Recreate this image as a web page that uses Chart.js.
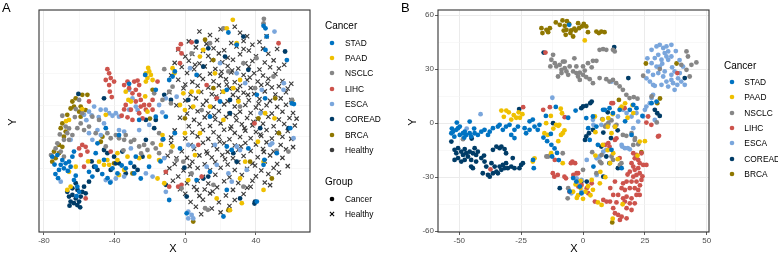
<!DOCTYPE html>
<html><head><meta charset="utf-8">
<script src="https://cdn.jsdelivr.net/npm/chart.js@4"></script>
<style>
body{margin:0;width:778px;height:254px;overflow:hidden;background:#fff;font-family:"Liberation Sans",Arial,sans-serif;position:relative}
canvas{position:absolute;left:0;top:0}
.t{position:absolute;white-space:nowrap;color:#000;line-height:1}
</style></head><body>
<canvas id="cA" width="778" height="254"></canvas>
<canvas id="cB" width="778" height="254"></canvas>
<div id="ov"></div>
<script>
// ---------- categories / labels ----------
const cancersA = ['STAD','PAAD','NSCLC','LIHC','ESCA','COREAD','BRCA','Healthy'];
const cancersB = ['STAD','PAAD','NSCLC','LIHC','ESCA','COREAD','BRCA'];
const groups = ['Cancer','Healthy'];
const palette = ['#0073C2','#EFC000','#868686','#CD534C','#7AA6DC','#003C67','#8F7700','#3B3B3B'];
const xTicksA = [-80,-40,0,40];
const yTicksA = [-20,0,20];
const xTicksB = [-50,-25,0,25,50];
const yTicksB = [-60,-30,0,30,60];

// ---------- panel A values ----------
const A_STAD = [[-31.8,13],[-22.7,15.8],[-9.1,14.2],[-7.2,15.3],[-16.7,11.1],[-11,2.6],[-16.7,2.6],[-26.1,1.6],
[-75.3,-10],[-72.4,-9.5],[-69.6,-11.1],[-67.7,-12.1],[-65.8,-11.6],[-70.5,-12.6],[-68.7,-13.7],[-63.9,-10],[-64.9,-13.2],[-71.5,-14.2],[-63,-8.4],[-61.1,-19.5],[-60.1,-21.1],[-63,-17.4],[-54.5,-14.8],[-52.6,-16.3],[-50.7,-13.2],[-41.2,-13.7],[-38.4,-15.3],[-33.7,-13.7],[-28.9,-15.3],[-28,-10],[-25.2,-16.9],[-49.7,-5.8],[-50.7,-8.9],[-45,-1],[-37.5,-3.2],[-9.1,-23.7],
[-73.5,-15.5],[-72,-16.8],[-74,-12.5],[-66.5,-14.5],[-62,-16],[-47,-15.5],[-44,-16.8],[-42.5,-18.2],[-46,-11],[-36,-12.8],[-31,-12],[-20.5,-13.2],[-14,-11.5],[-12.5,-4.5],[-61.5,-22.5],
[44.3,31.3],[46.1,27.9],[24.4,29.2],[29.1,25.3],[-5.9,16.9],[6.4,15.8],[23.5,11.1],[19.7,7.4],[14,2.6],[40.5,9.5],[45.2,8.4],[60.3,6.8],[57.5,20.5],
[-5.9,-2.6],[-3,-7.4],[23.5,-6.8],[26.3,-7.9],[35.7,-7.4],[51.8,-8.9],[59.4,-1],[14,-14.8],[6.4,-17.4],[23.5,-20.5],[21.6,-28.9],[0.8,-27.9],[40.5,-24.2],[44.3,-12.6],
[45.4,30.5],[45.4,23.7],[61.5,6.6],[44.8,-11]];
const A_PAAD = [[-22.3,16.3],[-20.4,16.9],[-19.5,15.8],[-21.4,14.8],[-18.5,14.2],[-22.3,13.7],[-21,18],[-33.7,10.5],[-32.2,7.9],[-30.8,7.4],[-22.7,9],[-21.4,4.2],[-45,3.2],[-7.2,17.9],[-6.2,16.3],[-58.3,5],[-65.8,1.6],
[-65.8,-14.8],[-64.9,-19.5],[-66.8,-20.5],[-62,-13.2],[-44.1,-11.1],[-46,-12.6],[-48.8,-11.6],[-43.1,-12.6],[-38.4,-11.1],[-37.5,-15.8],[-34.6,-14.2],[-32.7,-10],[-26.1,-10.5],[-20.4,-10],[-12.9,-3.2],[-13.8,-6.3],[-14.8,-11.1],[-15.7,-16.9],[-11.9,-18.4],[-7.2,-6.8],[-38.4,-8.9],[-67.5,1.2],[-55,-11.5],
[26.9,33.2],[23.5,30.5],[10.2,23.7],[8.3,21.6],[29.1,25.8],[16.8,16.3],[31,14.2],[21.6,10.5],[-1.1,10],[3.6,10.5],[7.4,10.5],[4.5,5.8],[-0.2,4.7],[-3,6.3],[14,5.8],[21.6,1.6],[45.2,3.7],[30.1,7.4],[27.2,11.6],
[-0.2,-2.6],[8.3,-2.6],[5.5,-9.5],[1.7,-17.4],[17.8,-23.2],[44.3,-20.5],[31,-16.9],[33.9,-11.6],[44.3,-11.6],[25.3,-26.9],[32,-24.7],[50.5,2.1],[41.1,-5.3]];
const A_NSCLC = [[-60.1,7.9],[-62,5],[-69.6,2.9],[-58.3,3.7],[-52.6,2.6],[-48.8,1.6],[-11.9,17.6],[-17.6,10],[-12.9,7.9],[-9.1,10.5],[-7.2,12.1],[-8.1,6.8],
[-67.7,-0.5],[-65.8,-1.1],[-66.8,-2.6],[-63.9,-3.2],[-72.4,-5.8],[-68.7,-4.7],[-65.8,-4.7],[-73.4,-7.4],[-70.5,-8.4],[-68.7,-10],[-61.1,-1],[-59.2,0.5],[-50.7,-2.6],[-44.1,-2.6],[-42.2,-4.2],[-39.3,-3.2],[-37.5,-4.2],[-34.6,-4.7],[-33.7,-3.2],[-30.8,-5.3],[-28.9,-4.7],[-26.1,-6.8],[-23.3,-6.3],[-21.4,-7.9],[-18.5,-5.8],[-16.7,-7.4],[-45,-6.8],[-14.8,-2.6],[-12.9,-4.7],[-14.8,-8.9],[-8.1,-8.4],[-54.5,-0.5],[-57.3,-1.6],[-76,-9.5],[-71,-3],[-62.5,2.5],[-35,-8],[-25,-9],
[44.3,32.1],[21.6,30.5],[14,25.8],[3.6,22.6],[24.4,16.9],[32.9,19.5],[39.5,11.6],[9.3,4.7],[31,5.8],[60.3,7.9],[49.9,15.3],
[-4.9,-11.1],[-1.1,-11.6],[3.6,-15.3],[-2.1,-20],[11.2,-26.3],[12.8,-26.8],[32.9,-19.5],[15.9,-18.9],[58.4,-8.4],[44.5,33.5],[51.7,-8.1],[40.3,21.1]];
const A_LIHC = [[-44.1,17.6],[-43.1,16.3],[-42.2,14.8],[-45,14.2],[-40.3,13.7],[-43.1,12.6],[-42.7,10.5],[-41.6,8.8],[-34.6,12.6],[-32.7,13.7],[-31.8,11.6],[-28.9,13.7],[-27,14],[-26.1,12.6],[-28,11.1],[-29.9,10],[-26.1,9.5],[-25.2,7.9],[-28,7.4],[-25.2,5.8],[-23.3,6.3],[-22.3,4.8],[-33.7,6.3],[-34.6,4.9],[-36,2.9],[-32.7,2.4],[-29.9,1.6],[-24.2,2.1],[-26.1,3.7],[-20.4,6.3],[-18.5,7.9],[-18.5,4.8],[-54.5,7.4],[-15.7,13.7],[-30.8,4.8],
[-58.3,-6.3],[-56.4,-6.9],[-60.1,-7.4],[-55.4,-8.4],[-59.2,-9.5],[-57.3,-13.2],[-42.2,-8.4],[-56.4,-23.2],[-11,-14.8],[-9.1,-19.5],
[3.6,26.1],[-2.1,22.6],[-3,19.5],[52.8,25.8],[12.1,12.6],[17.8,8.4],[-2.5,25.5],[-4,24],
[7.4,-6.3],[9.3,-16.3],[-2.1,-18.9],[-4,-19.5],[39.2,0.5]];
const A_ESCA = [[-51.6,5.8],[-47.9,4.8],[-45,4.8],[-43.1,3.7],[-41.2,2.9],[-39.3,3.7],[-54.5,4.2],[-57.3,3.2],[-37.5,2.6],[-31.8,4.8],[-28,5.8],[-27,4.7],[-11,8.4],[-14.8,6.3],[-31.8,11.1],[-29.9,8.4],[-13,4],
[-70.5,-17.9],[-64.9,-4.7],[-54.5,-2.6],[-52.6,-4.7],[-49.7,-1.6],[-47.8,-3.2],[-37.5,-1.6],[-34.6,-2.1],[-30.8,-7.4],[-34.6,-16.3],[-39.3,-16.9],[-26.1,-1.6],[-20.4,0],[-11.9,-10.5],[-22.3,-15.3],[-18.5,-16.3],[-11,-21.1],[-42.2,-17.9],[-45,-17.4],[-56,1.5],[-53,3],[-49,2.5],[-46,0.5],
[50.5,29.5],[19.7,19.5],[2.7,17.9],[-4.9,8.9],[43.3,11.1],[55.6,11.1],[29.1,16.3],[33.9,13.2],
[1.7,-6.3],[4.5,-6.8],[16.8,-6.3],[31,-7.9],[48,-6.3],[61.3,-4.2],[12.1,-13.2],[24.4,-15.3],[26.3,-17.9],[34.8,-14.2],[1.7,-27.4],[3.6,-28.4],[4.5,-29.5],[1.7,-29.5],[17.8,-12.6],[29.1,-6.8],
[55.8,13.2],[42.6,3.7],[49.2,-5.8]];
const A_COREAD = [[-46,8.4],[-60.5,9.8],[-11.9,9.5],[-16.7,1.6],[-22.3,1.6],[-8.1,7.9],
[-63.9,-22.1],[-65.8,-22.6],[-66.8,-21.1],[-62,-23.2],[-59.2,-22.6],[-58.3,-21.1],[-60.1,-24.2],[-63,-24.7],[-56.4,-21.6],[-57.3,-19.5],[-54.5,-17.9],[-62,-18.4],[-63.9,-20],[-61.1,-25.3],[-64.9,-24.2],[-61,-20.5],[-59.5,-26],[-65.5,-25.5],[-40.3,-10],[-39.3,-12.1],[-35.6,-8.4],[-28.9,-13.2],[-27,-14.2],[-49.7,-14.2],[-51.6,-13.2],[-44.1,-8.9],[-24.2,-10],[-22.3,-4.7],[-17.6,-1],[-46,-7.9],[-11,-18.9],[-37.5,-12.1],[-33.7,-15.3],[-42.2,-14.2],[-53,-11.5],
[6.4,26.3],[13,24.2],[32.9,27.9],[56.5,23.2],[22.5,21.6],[10.2,18.4],[1.7,7.9],[25.3,7.9],[35.7,17.4],[25.3,3.7],
[0.8,-22.6],[10.2,-16.9],[13,-16.3],[29.1,-11.6],[31,-23.2],[39.5,-24.2],[27.2,-8.9],[58.4,-1],[42.4,-1],[-0.5,-13.5],[39.2,-24.8]];
const A_BRCA = [[-62,8.4],[-58.3,9.5],[-55.4,9.5],[-64.9,5.2],[-63,5.8],[-59.2,5.8],[-60.1,4.2],[-59.2,2.6],[-56.4,4.7],[-66.8,3.2],[-18.5,11.1],[-63.9,7.4],
[-70.5,-1],[-67.7,-2.1],[-68.7,-3.7],[-71.5,-6.3],[-74.3,-8.4],[-73.4,-10.5],[-75.3,-11.6],[-71.5,-8.9],[-69.6,-6.9],[-46.9,-3.7],[-47.8,-5.3],[-40.3,-12.1],[-29.9,-15.3],[-69.6,0.5],[-20,2],
[11.2,26.9],[15.9,20.5],[15.9,11.6],[-0.2,2.1],[41.4,2.1],[50.9,8.4],
[4.5,-30.5],[49,-16.9],[36.7,-11.6],[24.4,-26.9],[53,-2.6],[60.5,7.7]];
const A_HEALTHY = [[8,29.5],[14,28.4],[20,30.2],[31,29.1],[35,28],
[2,26.4],[12,25.6],[18,26.8],[26,25.9],[33,26.5],[38,25.3],[42,26.2],
[-4,23.8],[6,24.5],[10,23.4],[16,24.2],[22,23.6],[29,24.8],[36,23.5],[44,24.1],
[0,21.6],[4,22.4],[13,21.8],[19,22.6],[24,21.2],[31,22.3],[40,21.7],[47,22.5],
[-6,19.6],[2,20.3],[8,19.4],[15,20.5],[21,19.8],[27,20.6],[34,19.5],[38,20.2],[45,19.7],[50,20.4],
[-2,18.3],[5,17.6],[11,18.5],[17,17.7],[24,18.6],[30,17.8],[36,18.4],[42,17.5],[48,18.2],[53,17.8],
[-8,15.7],[1,16.4],[8,15.6],[14,16.2],[20,15.5],[26,16.6],[33,15.8],[39,16.3],[44,15.6],[51,16.1],
[-4,14.3],[4,13.6],[10,14.5],[16,13.8],[23,14.4],[28,13.5],[35,14.2],[41,13.7],[47,14.6],[55,13.9],
[-1,11.6],[7,12.4],[13,11.8],[19,12.5],[25,11.5],[31,12.3],[37,11.7],[43,12.6],[49,11.8],[53,12.2],[58,11.5],
[-9,10.3],[3,9.6],[9,10.4],[15,9.7],[21,10.5],[27,9.5],[33,10.2],[39,9.8],[45,10.6],[51,9.6],[57,10.3],
[0,7.7],[6,8.4],[12,7.6],[18,8.3],[24,7.5],[30,8.5],[36,7.8],[42,8.2],[48,7.6],[54,8.4],[60,7.9],
[-5,6.2],[3,5.6],[10,6.4],[16,5.7],[22,6.5],[28,5.8],[34,6.3],[40,5.5],[46,6.2],[52,5.7],[57,6.4],
[1,3.6],[7,4.3],[13,3.7],[19,4.4],[25,3.5],[31,4.2],[37,3.8],[43,4.5],[49,3.6],[55,4.2],[61,3.8],
[-3,2.3],[5,1.6],[11,2.4],[17,1.7],[23,2.5],[29,1.5],[35,2.2],[41,1.8],[47,2.6],[53,1.7],[59,2.2],
[2,-0.4],[8,0.3],[14,-0.3],[20,0.5],[26,-0.5],[32,0.2],[38,-0.2],[44,0.4],[50,-0.4],[56,0.3],[62,-0.2],
[-6,-1.7],[4,-2.4],[10,-1.6],[16,-2.3],[22,-1.5],[28,-2.5],[34,-1.8],[40,-2.2],[46,-1.6],[52,-2.4],[58,-1.9],
[0,-4.3],[7,-3.6],[13,-4.4],[19,-3.7],[25,-4.5],[31,-3.8],[37,-4.2],[43,-3.5],[49,-4.3],[55,-3.7],[60,-4.4],
[-8,-5.7],[3,-6.3],[10,-5.6],[16,-6.4],[22,-5.8],[28,-6.5],[34,-5.7],[40,-6.2],[46,-5.5],[54,-6.3],
[-2,-8.3],[5,-7.6],[12,-8.4],[18,-7.7],[24,-8.5],[30,-7.8],[37,-8.2],[44,-7.6],[50,-8.4],[57,-7.7],
[-10,-9.7],[1,-10.4],[8,-9.6],[15,-10.3],[21,-9.5],[27,-10.5],[33,-9.8],[41,-10.2],[48,-9.6],[55,-10.4],
[-6,-12.3],[4,-11.6],[11,-12.4],[17,-11.7],[24,-12.5],[30,-11.8],[38,-12.2],[45,-11.5],[52,-12.3],
[-9,-13.7],[-1,-14.4],[7,-13.6],[14,-14.3],[20,-13.5],[28,-14.2],[35,-13.8],[43,-14.4],[50,-13.6],
[-4,-16.3],[3,-15.6],[10,-16.4],[17,-15.7],[25,-16.5],[32,-15.8],[40,-16.2],[47,-15.5],
[-7,-17.6],[1,-18.4],[7,-17.7],[13,-18.5],[22,-17.8],[30,-18.3],[38,-17.6],[45,-18.2],
[-3,-20.3],[5,-19.6],[11,-20.4],[18,-19.7],[27,-20.5],[35,-19.8],
[0,-21.7],[8,-22.4],[14,-21.6],[23,-22.3],[33,-21.8],
[3,-24.3],[10,-23.6],[19,-24.4],[28,-23.7],
[6,-25.8],[15,-26.4],[25,-25.6],[9,-28.2],[20,-27.6],
[17.5,9],[23.5,12.8],[28.5,3],[33.5,-1],[36.5,15],[41.5,6.8],[19.5,-5.2],[26.5,17.2],[31.5,-6.8],[38.5,1],[44.5,-8.5],[22.5,-10.8],[35.5,9.5],[29.5,11],[16.5,3],[25.5,-1.2],[39.5,-12.8],[46.5,13],[12.5,-9],[42.5,-3],[20.5,16.8],[33,24],[-8,-4],[-11,-15],[-5,-10.5],[2.5,-13],[6.5,-20.5],[15.5,-21],[0,12.8],[5.5,19],[37,-19.5],[48,-19],[53,-15],[58,-13],[61,-7],[63,2],[60,13],[56,19],[52,24],[46,28],[28,31]];

// ---------- panel B values ----------
const B_STAD = [[-53.2,-5.6],[-52.5,-4.7],[-51.2,-3.7],[-50.5,-2.8],[-49.8,-6.5],[-48.5,-5.6],[-47.8,-4.7],[-47.2,-6.5],[-45.8,-5.6],[-45.2,-7.4],[-43.8,-5.6],[-42.5,-6.5],[-49.8,-1.9],[-51,0.3],[-45.8,0.9],[-41.1,-4.7],[-39.8,-3.7],[-37.7,-4.7],[-36.4,-2.8],[-34.4,-1.9],[-33.7,-0.9],[-32.4,-3.7],[-31.1,-1.9],[-29.7,-0.9],[-27.7,-3.7],[-26.3,-1.9],[-23.6,-2.8],[-23,-5.6],[-21.6,-3.7],[-19.6,-1.9],[-18.3,-3.7],[-17.6,-0.9],[-21.6,1],[-20.3,2],[-27.7,-8.3],[-29,-6.5],[-38.4,-6.5],[-44,-3],[-52,-7.5],[-53,-3],[-48,-8],[-16,-8],[-14.5,-10],[-12.8,-12],[-11.5,-14],[-10.5,-16.5],[-12.5,-18.5],[-9.8,-20.5],[-13,-6],[-15,4],[-11,9],[-5.6,54.6],[1.3,2.8],[4,3.7],[8.1,7.4],[10.7,8.3],[12.1,5.6],[14.8,7.4],[5.4,-1.9],[2.7,-9.3],[-4,-30.5],[-1.3,-35.2],[-5.4,-37.9],[-2.7,-32.4],[2.1,-2.8],[15.6,-25],[4.2,-24.1],[-0.6,-38.9],[11.5,-14.8],[19.6,-6.5],[8.8,7.4],[18.9,7.4],[20.3,10.2],[21.6,8.3],[27.7,11.1],[29.7,12],[-20.2,-20.4],[-19.9,-25],[-6,3],[-3,7],[24,4],[17,1],[6,-12]];
const B_PAAD = [[-33,7],[-31,7],[-28,4.5],[-26,6],[-24.5,5],[-29,2],[-30,6],[-27,3],[-32,3.5],[-25.5,3],[-14.9,0],[-15.6,-5.6],[-14.3,-6.5],[-10.9,-0.9],[-9.6,-0.9],[-8.9,-6.5],[-8.2,-5.6],[-12.9,-16.7],[-8.2,-22.2],[-20.3,-21.3],[-19.6,-19.5],[-13,4],[-9,8],[-8.5,5.5],[-12,-3],[-10,-1.5],[-7.5,-4],[-10,-10],[0.7,45.9],[-3,-34],[-1,-36],[1,-38],[-2,-40],[0,-42],[2,-35],[-4,-38],[3,-40],[-1,-32],[4,-37],[6,-44],[-2.5,-41.5],[5,-5],[8,2],[10,-2],[12,5],[15,8],[18,3],[20,10],[8,-12],[10,-15],[14,-20],[22,-18],[5,-18],[25,-10],[16,-45],[12,-53],[13,-2],[17,11],[7,-27],[9,-30],[15.6,9.2],[4.8,3.7],[10.2,2.8],[20.3,5.6],[11.5,-5.6],[12.2,-16.7],[10.9,-22.2],[22.9,-10.2],[6.8,-33.4],[3.5,-31.5],[7.5,-45.4]];
const B_NSCLC = [[-12.1,37.9],[-12.8,35.2],[-11.4,33.3],[-13.2,31.5],[-10.8,31.5],[-9.4,32.4],[-8.7,29.6],[-8.1,34.2],[-7.4,30.5],[-6.7,28.7],[-5.4,31.5],[-6,26.8],[-4,28.7],[-2.7,27.8],[-2,25.9],[-1.3,24],[0,26.8],[1.3,25.5],[2.7,24.4],[4,22.2],[0,31.5],[-2.7,31.5],[2,33.3],[4,34.6],[5.4,34.6],[6.7,40.7],[8.1,41.1],[9.4,40.7],[12.1,40.7],[12.8,39.8],[-10.1,25.9],[-8.7,27.8],[6.7,25],[9.4,24.4],[10.7,23.1],[12.1,24],[13.4,22.2],[14.8,20.4],[16.1,18.5],[17.5,15.7],[18.8,13.9],[-7.4,34.2],[-1.3,28.1],[0.7,29.2],[20.5,14.5],[22,13.6],[41.8,39.8],[42.4,37],[43.8,32.4],[45.8,33.7],[39.7,32.4],[41.8,29.6],[43.1,25.9],[31,30],[24.3,26.3],[27.7,14.8],[29.8,0.4],[21,-8.3],[22.3,-11.7],[19.6,-5.5],[7.8,2.2],[9.4,-0.9],[11.5,1.5],[12.8,-1.9],[16.1,-6.5],[17.5,-7],[11.5,-18.5],[12.1,-20.4],[7.4,-22.2],[5.4,-27.8],[0,-25.9],[-6,-36.1],[-14.1,-18.5],[-14.8,-18.5],[15.5,-22.2],[3.7,-16.1],[7.5,-17.6],[6.8,-21.3],[14.9,-23.2],[20.9,-9.3],[20.3,-12.1],[8.9,-1.9],[10.2,0],[13.5,-0.9],[-48.5,-8.9],[-8.2,-16.7],[-6.2,-41.7],[-3.5,36],[3.5,31]];
const B_LIHC = [[20.3,-16.7],[21.6,-17.6],[20.9,-19.5],[22.3,-20.4],[22.9,-22.2],[24.3,-23.2],[25.6,-23.2],[19.6,-22.2],[20.3,-24.1],[20.9,-25.9],[22.3,-25],[22.9,-27.8],[21.6,-28.7],[20.3,-29.7],[23.6,-31.5],[21.6,-32.4],[19.6,-32.4],[12.9,-32.4],[16.2,-33.4],[17.6,-32.4],[15.6,-36.1],[16.9,-37.1],[18.9,-36.1],[20.9,-36.1],[22.3,-37.1],[14.2,-39.8],[12.2,-39.8],[16.2,-41.7],[17.6,-40.8],[19.6,-41.7],[21.6,-39.8],[22.9,-39.8],[16.9,-43.5],[18.9,-44.5],[20.9,-44.5],[17.6,-47.2],[19.6,-48.2],[12.2,-47.2],[12.9,-50],[14.2,-50.9],[15.6,-51.9],[17.6,-52.8],[14.9,-53.7],[10.9,-43.5],[9.5,-43.5],[8.2,-42.6],[4.8,-43.5],[1.5,-36.1],[-1.9,-35.2],[3.5,-33.4],[8.9,-12.1],[10.2,-11.1],[12.9,-9.3],[13.5,-8.4],[27.6,-0.9],[30.3,-7.4],[21.6,-18.5],[18.9,-26.9],[23.6,-16.7],[-3.9,-28.7],[-2.6,-27.8],[-3.2,-22.2],[-4.3,-21.3],[2.1,-38.9],[-0.6,-34.3],[25.6,0.3],[-12.2,-27.8],[-11.6,-29.7],[-10.2,-28.7],[-7.5,-29.7],[-6.9,-30.6],[-4.9,-22.2],[-5.5,-38],[-37.4,-25.6],[-24.2,8.9],[-15.2,39.2],[-13.4,8.9],[-7.4,3.3],[-16.1,7.4],[-11.4,-20.4],[-2,-27.8],[12.1,11.1],[16.8,8.3],[10.7,-13],[14.8,-19.4],[30.7,-7],[38.1,27.8],[11.5,11.1],[26.3,3.7],[24,-29.5],[18,-28.5],[13.5,-44],[11,-36],[23,-34.5]];
const B_ESCA = [[27.7,40.7],[29.7,42.6],[31,43.5],[32.4,41.7],[33.7,42.6],[34.4,39.8],[35.7,43.5],[33,38.9],[30.4,37.9],[29,36.1],[31.7,35.2],[34.4,35.2],[35.7,37],[27.7,33.3],[29.7,31.4],[26.3,28.7],[28.3,26.8],[30.4,27.8],[32.4,25.9],[33.7,23.1],[35.7,26.8],[37,28.7],[38.4,24.9],[36.4,22.2],[34.4,20.3],[31.7,21.3],[29,20.7],[27,23.1],[25.6,24.9],[37,18.5],[39.7,23.1],[41.1,21.3],[39.1,27.8],[40.4,31.4],[35.7,24],[33,28.7],[31,31.4],[28.3,21.3],[38.1,21.3],[33.7,37],[37.5,40],[26,36],[32,33],[36,31],[39,35],
[-41.4,5],[-12.4,14.1],[-47,-3],[11.5,23.1],[16.2,7.4],[17.6,5.6],[19.6,3.7],[21.6,5.6],[25,7.4],[25.6,9.2],[27,11.1],[27.7,13.9],[28.3,15.7],[24.3,3.7],[29,1.8],[8.2,-15.8],[5.5,-19.5],[5.5,-28.7],[-0.6,-31.5],[-1.9,-32.4],[15.6,-12.1],[16.9,-13.9],[18.9,-14.5],[10.2,-0.9],[22.3,0.9],[20.3,-2.8],[4.2,-0.9],[-2.6,-30.6],[-0.6,-38],[1.5,-20.4],[-4.7,-38.9],[4,1.9],[7.4,-0.9],[10.7,1.9],[14.1,3.7],[6.7,-18.5],[9.4,-14.8],[15.8,-13],[18.1,-13.9]];
const B_COREAD = [[-51.9,-14.8],[-51.2,-16.7],[-50.5,-13.9],[-49.2,-15.8],[-48.5,-17.6],[-47.8,-14.4],[-47.2,-16.7],[-46.5,-18.5],[-45.8,-15.8],[-45.2,-20.4],[-44.5,-16.7],[-43.8,-13.9],[-43.2,-17.6],[-42.5,-15.8],[-51.9,-20.4],[-50.5,-19.4],[-49.2,-21.3],[-47.8,-20.4],[-45.2,-24.1],[-43.2,-21.3],[-41.1,-19.4],[-39.8,-21.3],[-40.5,-27.8],[-38.4,-28.7],[-37.7,-29.7],[-36.4,-27.8],[-35,-26.9],[-34.4,-27.8],[-33,-25.9],[-33.7,-24.1],[-32.4,-23.2],[-31.7,-25],[-31.1,-22.2],[-30.4,-25],[-29,-24.1],[-28.4,-19.4],[-27.7,-25],[-25.7,-25],[-25,-23.2],[-24.3,-22.2],[-36.4,-14.8],[-35,-13],[-33.7,-13.9],[-33,-13],[-31.7,-14.4],[-31.1,-16.7],[-37,-22.2],[-35.7,-24.1],[-39.1,-24.1],[-53.2,-10.2],[-44.5,-25],[-40,-18],[-45,-8.5],
[-15.9,39.2],[-25.8,7.8],[-9.4,-36.1],[-12.1,0],[-0.7,8.3],[0,9.3],[1.3,9.6],[2.9,11.1],[3.5,12],[1.3,-7.4],[2.4,-5.6],[4,-3.7],[7.4,-13],[9.4,-18.5],[10.7,-22.2],[14.1,-25],[-0.7,-32.4],[12.6,42.2],[18.3,25],[41.1,25],[29,7.4],[30,5.5],[31,4],[0.8,-9.3],[8.2,-5.2],[11.3,-8.3],[8.2,-29.7],[1.5,-32.4],[10,6],[14,-4]];
const B_BRCA = [[-16.4,50],[-16.8,52.7],[-14.8,51.8],[-14.1,50.5],[-13.4,52.7],[-11,55.9],[-9.4,54.6],[-8.3,57],[-7.4,54],[-6.7,51.8],[-5.6,55.1],[-5.1,50],[-4,48.1],[-3,51.4],[-2,55.5],[-1.6,52.7],[-0.5,53.7],[0.3,55.1],[1.3,53.7],[-6.5,56.6],[-7.8,51.4],[2,50.5],[5.4,50.8],[6.4,50],[7.4,50.8],[8.7,50.5],[-3.5,52.5],[-4.8,51.5],[-7,49],[25.4,33.1],[37.8,33.1],[31.1,13.7],[30,11.1],[23.6,-16.1],[14.5,12.9],[11.8,-55.1]];

// ---------- build ----------
const seriesA = [A_STAD,A_PAAD,A_NSCLC,A_LIHC,A_ESCA,A_COREAD,A_BRCA,A_HEALTHY];
const seriesB = [B_STAD,B_PAAD,B_NSCLC,B_LIHC,B_ESCA,B_COREAD,B_BRCA];
const toPts = arr => arr.map(p => ({x:p[0], y:p[1]}));

function dsFor(names, series){
  return names.map((n,i) => {
    const healthy = n === 'Healthy';
    return {
      label:n, data:toPts(series[i]),
      pointStyle: healthy ? 'crossRot' : 'circle',
      pointRadius: healthy ? 3 : 2.4,
      backgroundColor: palette[i],
      borderColor: palette[i],
      borderWidth: healthy ? 1.15 : 0,
      order: healthy ? 10 : i
    };
  });
}

const boxPlugin = {id:'box', afterDraw(chart){
  const {ctx, chartArea:a} = chart;
  ctx.save(); ctx.strokeStyle='#333333'; ctx.lineWidth=1.1;
  ctx.strokeRect(a.left, a.top, a.right-a.left, a.bottom-a.top); ctx.restore();
}};

function axis(min, max, step, labels, isX, width){
  const isMajor = v => labels.includes(v);
  return {
    type:'linear', min, max, position: isX ? 'bottom' : 'left',
    border:{display:false},
    ticks:{stepSize:step, includeBounds:false, autoSkip:false, maxRotation:0,
      color:'#4D4D4D', font:{family:'"Liberation Sans", Arial, sans-serif', size:8}, padding:1,
      callback: v => isMajor(v) ? String(v) : ''},
    grid:{
      color: c => (c.tick && isMajor(c.tick.value)) ? '#EBEBEB' : '#F4F4F4',
      lineWidth: c => (c.tick && isMajor(c.tick.value)) ? 1 : 0.6,
      tickColor: c => (c.tick && isMajor(c.tick.value)) ? '#333333' : 'rgba(0,0,0,0)',
      tickLength:3, tickWidth:0.8, drawTicks:true
    },
    afterFit: s => { if(isX){ s.height = 22; s.paddingLeft = 0; s.paddingRight = 0; } else { s.width = width; s.paddingTop = 0; s.paddingBottom = 0; } }
  };
}

function makeChart(id, names, series, pad, xr, yr, yw){
  new Chart(document.getElementById(id), {
    type:'scatter',
    data:{datasets: dsFor(names, series)},
    options:{
      responsive:false, animation:false, devicePixelRatio:1,
      layout:{padding:pad},
      plugins:{legend:{display:false}, tooltip:{enabled:false}},
      scales:{ x: axis(xr[0], xr[1], xr[2], xr[3], true, 0), y: axis(yr[0], yr[1], yr[2], yr[3], false, yw) }
    },
    plugins:[boxPlugin]
  });
}

makeChart('cA', cancersA, seriesA, {left:0, top:10, right:468, bottom:0}, [-82.8,70.6,20,xTicksA], [-33.8,36.3,10,yTicksA], 39);
makeChart('cB', cancersB, seriesB, {left:400, top:10, right:69, bottom:0}, [-58.6,50.9,12.5,xTicksB], [-60.4,62.8,15,yTicksB], 38);

// ---------- text overlay ----------
const ov = document.getElementById('ov');
function txt(s, left, cy, size, extra){
  const d = document.createElement('div'); d.className='t'; d.textContent=s;
  d.style.left = left+'px'; d.style.top = cy+'px'; d.style.fontSize = size+'px';
  d.style.transform = 'translateY(-50%)' + (extra||'');
  ov.appendChild(d); return d;
}
function sym(cx, cy, color, shape){
  const ns='http://www.w3.org/2000/svg';
  const s=document.createElementNS(ns,'svg'); s.setAttribute('width','10'); s.setAttribute('height','10');
  s.style.position='absolute'; s.style.left=(cx-5)+'px'; s.style.top=(cy-5)+'px';
  if(shape==='cross'){
    s.innerHTML = '<path d="M2.9,2.9 L7.1,7.1 M7.1,2.9 L2.9,7.1" stroke="'+color+'" stroke-width="1.1"/>';
  } else {
    s.innerHTML = '<circle cx="5" cy="5" r="2.3" fill="'+color+'"/>';
  }
  ov.appendChild(s);
}
// Panel letters
txt('A', 2, 7, 13);
txt('B', 401, 7, 13);
// Axis titles
const xa = txt('X', 173, 248, 11); xa.style.transform='translate(-50%,-50%)';
const ya = txt('Y', 12, 122, 11); ya.style.transform='translate(-50%,-50%) rotate(-90deg)';
const xb = txt('X', 574, 248, 11); xb.style.transform='translate(-50%,-50%)';
const yb = txt('Y', 412, 122, 11); yb.style.transform='translate(-50%,-50%) rotate(-90deg)';
// Legend A
txt('Cancer', 325, 26, 10);
cancersA.forEach((n,i)=>{ const cy = 42.7 + i*15.33; sym(332.3, cy, palette[i], 'dot'); txt(n, 345, cy, 8.4); });
txt('Group', 325, 182, 10);
groups.forEach((g,i)=>{ const cy = 199.3 + i*15; sym(332.3, cy, '#000000', i===0?'dot':'cross'); txt(g, 345, cy, 8.4); });
// Legend B
txt('Cancer', 724, 66, 10);
cancersB.forEach((n,i)=>{ const cy = 81.7 + i*15.43; sym(731.7, cy, palette[i], 'dot'); txt(n, 744.3, cy, 8.4); });
</script>
</body></html>
